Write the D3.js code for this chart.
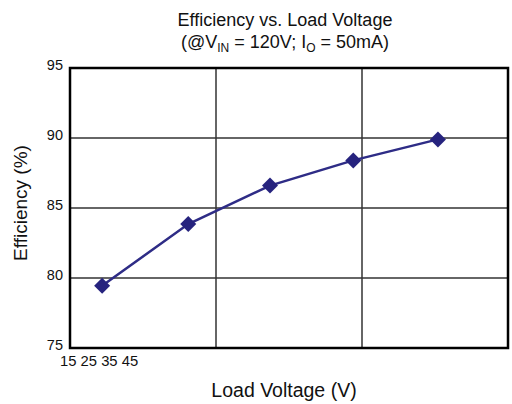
<!DOCTYPE html>
<html>
<head>
<meta charset="utf-8">
<script src="https://cdn.jsdelivr.net/npm/d3@7"></script>
<style>
  body { margin: 0; background: #fff; }
  text { font-family: "Liberation Sans", Arial, sans-serif; fill: #111; }
</style>
</head>
<body>
<svg id="chart" width="512" height="404"></svg>
<script>
// Values.
var loadVoltage = [17.2, 23.1, 28.7, 34.4, 40.2];
var efficiency = [79.45, 83.85, 86.6, 88.4, 89.9];
var xTicks = [15, 25, 35, 45];
var yTicks = [75, 80, 85, 90, 95];

var svg = d3.select('#chart');
var plotLeft = 70, plotRight = 508, plotTop = 68, plotBottom = 348;

var x = d3.scaleLinear().domain([15, 45]).range([plotLeft, plotRight]);
var y = d3.scaleLinear().domain([75, 95]).range([plotBottom, plotTop]);

// Grid lines.
svg.append('g').selectAll('line')
   .data(xTicks.slice(1, -1))
   .enter().append('line')
   .attr('x1', function(d) { return x(d); })
   .attr('x2', function(d) { return x(d); })
   .attr('y1', plotTop).attr('y2', plotBottom)
   .style('stroke', '#333').style('stroke-width', 1.5);

svg.append('g').selectAll('line')
   .data(yTicks.slice(1, -1))
   .enter().append('line')
   .attr('x1', plotLeft).attr('x2', plotRight)
   .attr('y1', function(d) { return y(d); })
   .attr('y2', function(d) { return y(d); })
   .style('stroke', '#333').style('stroke-width', 1.5);

// Frame.
svg.append('rect')
   .attr('x', plotLeft).attr('y', plotTop)
   .attr('width', plotRight - plotLeft).attr('height', plotBottom - plotTop)
   .style('fill', 'none').style('stroke', '#000').style('stroke-width', 2.5);

// Y tick labels.
svg.append('g').selectAll('text')
   .data(yTicks)
   .enter().append('text')
   .attr('x', plotLeft - 7)
   .attr('y', function(d) { return y(d) + 2; })
   .attr('text-anchor', 'end')
   .style('font-size', '14.5px')
   .text(function(d) { return d; });

// X tick labels are crammed together at the left in the original.
svg.append('text')
   .attr('x', 60).attr('y', 366)
   .style('font-size', '14.8px')
   .text(xTicks.join(' '));

// Series line and markers.
var pts = loadVoltage.map(function(v, i) { return [v, efficiency[i]]; });
var line = d3.line()
   .x(function(d) { return x(d[0]); })
   .y(function(d) { return y(d[1]); });

svg.append('path')
   .datum(pts)
   .attr('d', line)
   .style('fill', 'none')
   .style('stroke', '#2e2c86')
   .style('stroke-width', 2.5);

svg.append('g').selectAll('path')
   .data(pts)
   .enter().append('path')
   .attr('transform', function(d) { return 'translate(' + x(d[0]) + ',' + y(d[1]) + ')'; })
   .attr('d', 'M0,-8L8,0L0,8L-8,0Z')
   .style('fill', '#26237e');

// Titles.
svg.append('text')
   .attr('x', 285).attr('y', 26)
   .attr('text-anchor', 'middle')
   .style('font-size', '18px')
   .text('Efficiency vs. Load Voltage');

var sub = svg.append('text')
   .attr('x', 285).attr('y', 48)
   .attr('text-anchor', 'middle')
   .style('font-size', '18px');
sub.append('tspan').text('(@V');
sub.append('tspan').attr('dy', 4).style('font-size', '12px').text('IN');
sub.append('tspan').attr('dy', -4).text(' = 120V; I');
sub.append('tspan').attr('dy', 4).style('font-size', '12px').text('O');
sub.append('tspan').attr('dy', -4).text(' = 50mA)');

svg.append('text')
   .attr('x', 284).attr('y', 397)
   .attr('text-anchor', 'middle')
   .style('font-size', '19.5px')
   .text('Load Voltage (V)');

svg.append('text')
   .attr('transform', 'translate(27,203) rotate(-90)')
   .attr('text-anchor', 'middle')
   .style('font-size', '19px')
   .text('Efficiency (%)');
</script>
</body>
</html>
